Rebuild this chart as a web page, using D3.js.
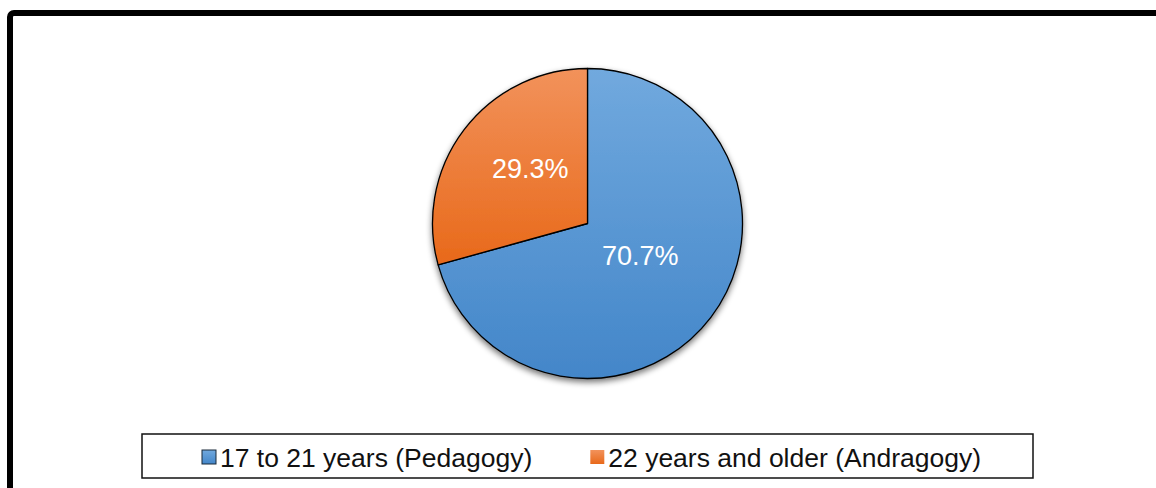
<!DOCTYPE html>
<html>
<head>
<meta charset="utf-8">
<script src="https://cdn.jsdelivr.net/npm/d3@7"></script>
<style>
  html, body { margin: 0; padding: 0; background: #fff; }
  svg { display: block; }
</style>
</head>
<body>
<svg id="chart" width="1156" height="488"></svg>
<script>
// Age groups of respondents
const categories = ["17 to 21 years (Pedagogy)", "22 years and older (Andragogy)"];
const shares = [70.7, 29.3];
const labels = ["70.7%", "29.3%"];
const gradTop = ["#71a9de", "#f2925b"];
const gradBottom = ["#4386c9", "#e8691a"];

const W = 1156, H = 488;
const svg = d3.select("#chart");
const defs = svg.append("defs");

// soft drop shadow under the pie
const shadow = defs.append("filter").attr("id", "pieShadow")
  .attr("x", "-10%").attr("y", "-10%").attr("width", "120%").attr("height", "125%");
shadow.append("feGaussianBlur").attr("in", "SourceAlpha").attr("stdDeviation", 3).attr("result", "b");
shadow.append("feOffset").attr("in", "b").attr("dx", 0).attr("dy", 3).attr("result", "o");
shadow.append("feComponentTransfer").attr("in", "o").attr("result", "s")
  .append("feFuncA").attr("type", "linear").attr("slope", 0.55);
const merge = shadow.append("feMerge");
merge.append("feMergeNode").attr("in", "s");
merge.append("feMergeNode").attr("in", "SourceGraphic");

categories.forEach((c, i) => {
  const g = defs.append("linearGradient").attr("id", "grad" + i)
    .attr("x1", 0).attr("y1", 0).attr("x2", 0).attr("y2", 1);
  g.append("stop").attr("offset", "0%").attr("stop-color", gradTop[i]);
  g.append("stop").attr("offset", "100%").attr("stop-color", gradBottom[i]);
});

// outer chart frame (runs past the right and bottom edges)
svg.append("rect")
  .attr("x", 10).attr("y", 13)
  .attr("width", W + 20).attr("height", H + 20)
  .attr("rx", 4)
  .attr("fill", "none").attr("stroke", "#000").attr("stroke-width", 6);

// pie
const cx = 587.5, cy = 223.5, R = 155;
const pie = d3.pie().sort(null).value(d => d);
const arcs = pie(shares);
const arc = d3.arc().innerRadius(0).outerRadius(R);

const pg = svg.append("g").attr("transform", `translate(${cx},${cy})`);
pg.append("g").attr("filter", "url(#pieShadow)")
  .selectAll("path").data(arcs).enter().append("path")
  .attr("d", arc)
  .attr("fill", (d, i) => `url(#grad${i})`)
  .attr("stroke", "#000").attr("stroke-width", 1.3)
  .attr("stroke-linejoin", "round");

// data labels placed inside each slice
const labelRadius = [0.40, 0.51];
const labelAngleShift = [-0.1, 0.11];
pg.selectAll("text.lbl").data(arcs).enter().append("text")
  .attr("class", "lbl")
  .attr("transform", (d, i) => {
    const a = (d.startAngle + d.endAngle) / 2 + labelAngleShift[i];
    const r = R * labelRadius[i];
    return `translate(${r * Math.sin(a)},${-r * Math.cos(a)})`;
  })
  .attr("text-anchor", "middle")
  .attr("dy", "0.35em")
  .attr("fill", "#fff")
  .style("font-family", "'Liberation Sans', Arial, sans-serif")
  .style("font-size", "27px")
  .text((d, i) => labels[i]);

// legend
const lx = 142, ly = 434, lw = 891, lh = 44;
svg.append("rect")
  .attr("x", lx).attr("y", ly).attr("width", lw).attr("height", lh)
  .attr("fill", "#fff").attr("stroke", "#111").attr("stroke-width", 1.5);

const lg = svg.append("g");
const items = lg.selectAll("g.item").data(categories).enter().append("g").attr("class", "item");
items.append("rect")
  .attr("width", 14).attr("height", 14)
  .attr("y", 450)
  .attr("fill", (d, i) => `url(#grad${i})`)
  .attr("stroke", (d, i) => i === 0 ? "#1a2a3a" : "none")
  .attr("stroke-width", 1);
items.append("text")
  .attr("y", 467)
  .attr("fill", "#111")
  .style("font-family", "'Liberation Sans', Arial, sans-serif")
  .style("font-size", "26.5px")
  .text(d => d);

const gapSwatch = 4, gapItem = 58, sw = 14;
const widths = [];
items.each(function () { widths.push(sw + gapSwatch + d3.select(this).select("text").node().getComputedTextLength()); });
const total = d3.sum(widths) + gapItem * (widths.length - 1);
let x0 = lx + lw / 2 - total / 2 + 4;
items.each(function (d, i) {
  const g = d3.select(this);
  g.select("rect").attr("x", x0);
  g.select("text").attr("x", x0 + sw + gapSwatch);
  x0 += widths[i] + gapItem;
});
</script>
</body>
</html>
